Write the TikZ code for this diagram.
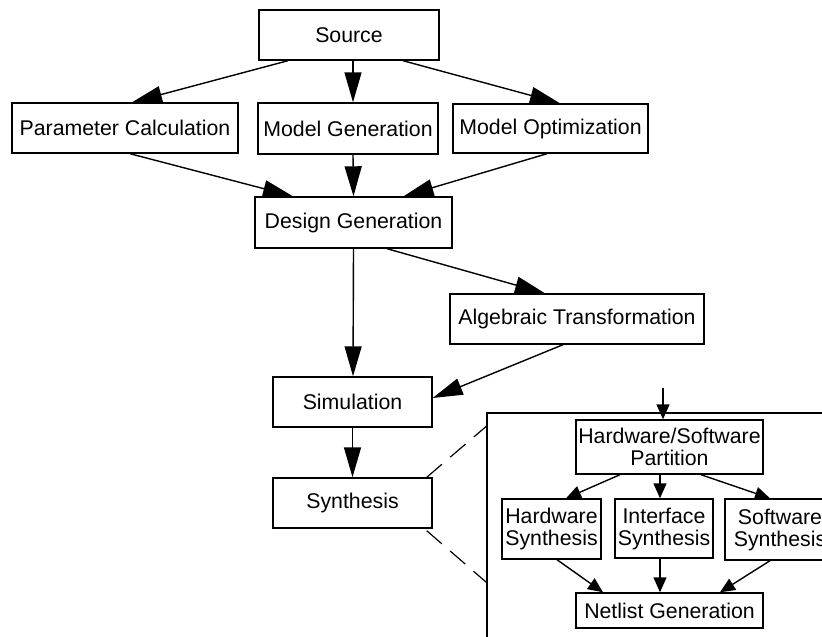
\documentclass[tikz,border=0pt]{standalone}
\usepackage{fontspec}
\setmainfont{Liberation Sans}
\usetikzlibrary{arrows.meta}
\tikzset{
  box/.style={draw, line width=1.4pt, inner sep=0pt, align=center, font=\fontsize{21.3}{22}\selectfont},
  bigarr/.style={line width=1.4pt, -{Triangle[length=30pt,width=17pt]}},
  smallarr/.style={line width=1.4pt, -{Triangle[length=15pt,width=13pt]}},
  zoomline/.style={line width=1.2pt, dash pattern=on 20pt off 11pt}
}
\begin{document}
\begin{tikzpicture}[x=1pt,y=-1pt]
\useasboundingbox (0,0) rectangle (822,637);
\clip (0,0) rectangle (822,637);
\node[box, minimum width=180pt, minimum height=50pt] (src) at (349,35) {Source};
\node[box, minimum width=226pt, minimum height=50pt] (pc) at (125,128) {Parameter Calculation};
\node[box, minimum width=180pt, minimum height=51pt] (mg) at (348,128.5) {Model Generation};
\node[box, minimum width=195pt, minimum height=49pt] (mo) at (550.5,128.5) {Model Optimization};
\node[box, minimum width=197pt, minimum height=51pt] (dg) at (353.5,222.5) {Design Generation};
\node[box, minimum width=254pt, minimum height=50pt] (at) at (577,319) {Algebraic Transformation};
\node[box, minimum width=159pt, minimum height=50pt] (sim) at (352.5,402) {Simulation};
\node[box, minimum width=159pt, minimum height=50pt] (syn) at (352.5,503) {Synthesis};
\node[draw, line width=1.4pt, inner sep=0pt, minimum width=353pt, minimum height=247pt] (sub) at (663.5,536.5) {};
\node[box, minimum width=187pt, minimum height=54pt] (hw) at (669.5,447) {Hardware/Software\\Partition};
\node[box, minimum width=99pt, minimum height=60pt] (hs) at (551.5,529) {Hardware\\Synthesis};
\node[box, minimum width=98pt, minimum height=59pt] (is) at (664,528.5) {Interface\\Synthesis};
\node[box, minimum width=110pt, minimum height=61pt] (ss) at (780,529.5) {Software\\Synthesis};
\node[box, minimum width=187pt, minimum height=35pt] (ng) at (669.5,610.5) {Netlist Generation};
\coordinate (intop) at (663,388);
% top level arrows
\draw[bigarr] ([xshift=-61pt]src.south) -- ([xshift=7pt]pc.north);
\draw[bigarr] ([xshift=4pt]src.south) -- ([xshift=5pt]mg.north);
\draw[bigarr] ([xshift=54pt]src.south) -- ([xshift=9.5pt]mo.north);
\draw[bigarr] ([xshift=5pt]pc.south) -- ([xshift=-60.5pt]dg.north);
\draw[bigarr] ([xshift=5pt]mg.south) -- ([xshift=0pt]dg.north);
\draw[bigarr] ([xshift=-3.5pt]mo.south) -- ([xshift=50pt]dg.north);
\draw[bigarr] (dg.south) -- ([xshift=0.5pt]sim.north);
\draw[bigarr] ([xshift=33.5pt]dg.south) -- ([xshift=-32pt]at.north);
\draw[bigarr] ([xshift=-14pt]at.south) -- ([yshift=4pt]sim.east);
\draw[bigarr] (sim.south) -- (syn.north);
% zoom lines
\draw[zoomline] ([xshift=-6pt]syn.north east) -- ([yshift=-14pt]sub.north west);
\draw[zoomline] ([xshift=-6pt,yshift=-2pt]syn.south east) -- ([yshift=-170pt]sub.north west);
% inner arrows
\draw[smallarr] (intop) -- (intop |- hw.north);
\draw[smallarr] ([xshift=-49.5pt]hw.south) -- ([xshift=14.5pt]hs.north);
\draw[smallarr] ([xshift=-9.5pt]hw.south) -- ([xshift=-4pt]is.north);
\draw[smallarr] ([xshift=31.5pt]hw.south) -- ([xshift=-10pt]ss.north);
\draw[smallarr] ([xshift=5.5pt]hs.south) -- ([xshift=-66.5pt]ng.north);
\draw[smallarr] ([xshift=-4pt]is.south) -- ([xshift=-9.5pt]ng.north);
\draw[smallarr] ([xshift=-10pt]ss.south) -- ([xshift=50.5pt]ng.north);
\end{tikzpicture}
\end{document}
